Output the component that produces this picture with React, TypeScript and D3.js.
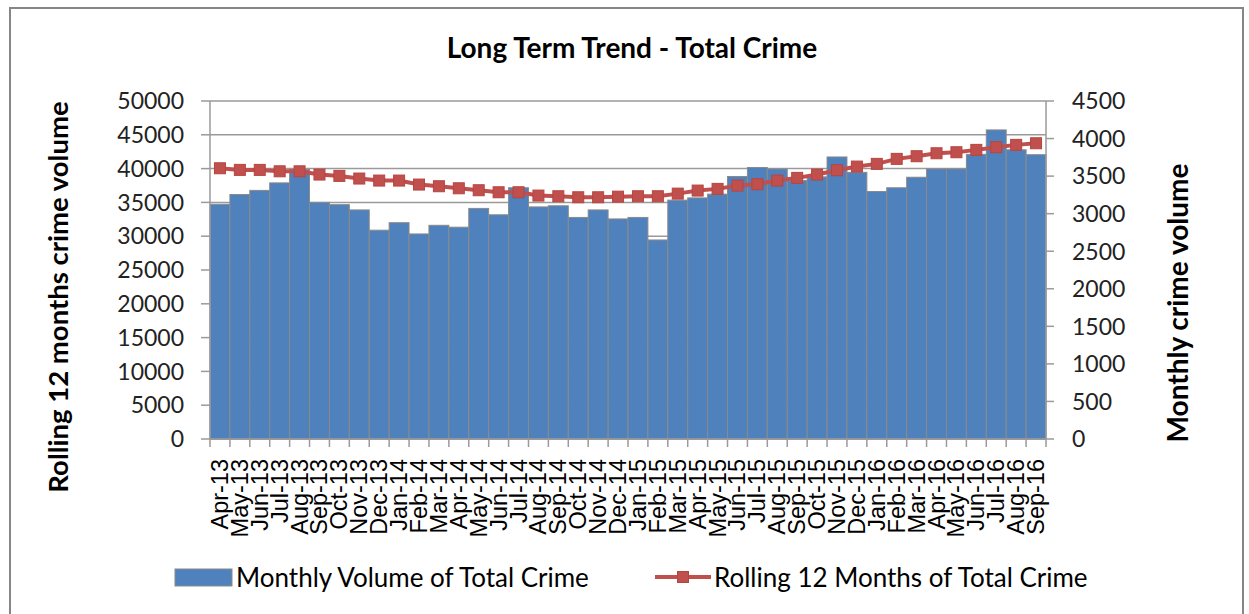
import React from "react";
import * as d3 from "d3";

const months = [
  "Apr-13","May-13","Jun-13","Jul-13","Aug-13","Sep-13","Oct-13","Nov-13","Dec-13",
  "Jan-14","Feb-14","Mar-14","Apr-14","May-14","Jun-14","Jul-14","Aug-14","Sep-14","Oct-14","Nov-14","Dec-14",
  "Jan-15","Feb-15","Mar-15","Apr-15","May-15","Jun-15","Jul-15","Aug-15","Sep-15","Oct-15","Nov-15","Dec-15",
  "Jan-16","Feb-16","Mar-16","Apr-16","May-16","Jun-16","Jul-16","Aug-16","Sep-16",
];

const monthlyVolume = [
  3125, 3255, 3310, 3410, 3590, 3150, 3120, 3050, 2780,
  2880, 2730, 2845, 2820, 3070, 2985, 3345, 3090, 3105, 2950, 3050, 2930,
  2950, 2650, 3180, 3210, 3260, 3495, 3615, 3595, 3440, 3490, 3755, 3550,
  3295, 3345, 3485, 3595, 3595, 3790, 4115, 3850, 3785,
];

const rolling12 = [
  40050, 39810, 39810, 39600, 39600, 39120, 38920, 38530, 38230,
  38230, 37640, 37390, 37090, 36800, 36500, 36500, 36010, 35910, 35760, 35760, 35850,
  35910, 35910, 36300, 36750, 37000, 37490, 37690, 38230, 38630, 39120, 39760, 40300,
  40700, 41440, 41830, 42270, 42420, 42770, 43160, 43510, 43750,
];

const leftTicks = [0, 5000, 10000, 15000, 20000, 25000, 30000, 35000, 40000, 45000, 50000];
const rightTicks = [0, 500, 1000, 1500, 2000, 2500, 3000, 3500, 4000, 4500];

const title = "Long Term Trend - Total Crime";
const leftTitle = "Rolling 12 months crime volume";
const rightTitle = "Monthly crime volume";
const barName = "Monthly Volume of Total Crime";
const lineName = "Rolling 12 Months of Total Crime";

const W = 1249;
const H = 614;
const PL = 210;
const PR = 1046;
const PT = 101;
const PB = 439;

const BAR = "#4f81bd";
const RED = "#c0504d";
const GRID = "#9a9a9a";
const CAL = "Lato, 'DejaVu Sans', sans-serif";
const ARIAL = "'Liberation Sans', Arial, sans-serif";

export default function App() {
  const x = d3.scaleBand<string>().domain(months).range([PL, PR]).padding(0);
  const yL = d3.scaleLinear().domain([0, 50000]).range([PB, PT]);
  const yR = d3.scaleLinear().domain([0, 4500]).range([PB, PT]);
  const bw = x.bandwidth();

  const line = d3
    .line<number>()
    .x((_, i) => (x(months[i]) as number) + bw / 2)
    .y((d) => yL(d));

  const ms = 11;

  return (
    <svg
      width={W}
      height={H}
      style={{ position: "absolute", left: 0, top: 0, background: "#fff" }}
    >
      <rect x={0} y={0} width={W} height={H} fill="#fff" />
      <rect x={10} y={8} width={1233} height={640} fill="#fff" stroke="#868686" strokeWidth={2} />

      <text x={632} y={58} textAnchor="middle" fontFamily={CAL} fontWeight="bold" fontSize={28} fill="#000">
        {title}
      </text>

      {/* gridlines */}
      {leftTicks.map((t) => (
        <line key={"g" + t} x1={PL} x2={PR} y1={yL(t)} y2={yL(t)} stroke={GRID} strokeWidth={1.5} />
      ))}

      {/* bars */}
      {monthlyVolume.map((v, i) => (
        <rect
          key={"b" + i}
          x={x(months[i])}
          y={yR(v)}
          width={bw}
          height={PB - yR(v)}
          fill={BAR}
          stroke="#8a8a8a"
          strokeWidth={1}
        />
      ))}

      {/* axes lines */}
      <line x1={PL} x2={PL} y1={PT} y2={PB} stroke={GRID} strokeWidth={1.5} />
      <line x1={PR} x2={PR} y1={PT} y2={PB} stroke={GRID} strokeWidth={1.5} />
      <line x1={PL} x2={PR} y1={PB} y2={PB} stroke={GRID} strokeWidth={1.5} />

      {/* left ticks */}
      {leftTicks.map((t) => (
        <g key={"lt" + t}>
          <line x1={PL - 9} x2={PL} y1={yL(t)} y2={yL(t)} stroke={GRID} strokeWidth={1.5} />
          <text x={184} y={yL(t)} dy="0.36em" textAnchor="end" fontFamily={CAL} fontSize={23} fill="#222">
            {t}
          </text>
        </g>
      ))}

      {/* right ticks */}
      {rightTicks.map((t) => (
        <g key={"rt" + t}>
          <line x1={PR} x2={PR + 8} y1={yR(t)} y2={yR(t)} stroke={GRID} strokeWidth={1.5} />
          <text x={1072} y={yR(t)} dy="0.36em" textAnchor="start" fontFamily={CAL} fontSize={23} fill="#222">
            {t}
          </text>
        </g>
      ))}

      {/* x ticks */}
      {months.map((m, i) => (
        <line
          key={"xt" + i}
          x1={x(m) as number}
          x2={x(m) as number}
          y1={PB}
          y2={PB + 8}
          stroke={GRID}
          strokeWidth={1.5}
        />
      ))}
      <line x1={PR} x2={PR} y1={PB} y2={PB + 8} stroke={GRID} strokeWidth={1.5} />

      {/* x labels */}
      {months.map((m) => {
        const cx = (x(m) as number) + bw / 2;
        return (
          <text
            key={"xl" + m}
            transform={`translate(${cx + 8},459) rotate(-90)`}
            textAnchor="end"
            fontFamily={ARIAL}
            fontSize={23.5}
            fill="#000"
          >
            {m}
          </text>
        );
      })}

      {/* line */}
      <path d={line(rolling12) || ""} fill="none" stroke={RED} strokeWidth={4} />
      {rolling12.map((v, i) => {
        const cx = (x(months[i]) as number) + bw / 2;
        return (
          <rect
            key={"m" + i}
            x={cx - ms / 2}
            y={yL(v) - ms / 2}
            width={ms}
            height={ms}
            fill={RED}
            stroke="#b8443f"
            strokeWidth={1}
          />
        );
      })}

      {/* axis titles */}
      <text
        transform={`translate(68,297) rotate(-90)`}
        textAnchor="middle"
        fontFamily={CAL}
        fontWeight="bold"
        fontSize={27.5}
        fill="#000"
      >
        {leftTitle}
      </text>
      <text
        transform={`translate(1188,303) rotate(-90)`}
        textAnchor="middle"
        fontFamily={CAL}
        fontWeight="bold"
        fontSize={28}
        fill="#000"
      >
        {rightTitle}
      </text>

      {/* legend */}
      <rect x={175} y={569} width={57} height={17} fill={BAR} stroke="#8a8a8a" strokeWidth={1} />
      <text x={236} y={587} fontFamily={CAL} fontSize={26} fill="#000">
        {barName}
      </text>
      <line x1={655} x2={711} y1={577} y2={577} stroke={RED} strokeWidth={4} />
      <rect x={683 - ms / 2} y={577 - ms / 2} width={ms} height={ms} fill={RED} stroke="#b8443f" strokeWidth={1} />
      <text x={714} y={587} fontFamily={CAL} fontSize={26} fill="#000">
        {lineName}
      </text>
    </svg>
  );
}
